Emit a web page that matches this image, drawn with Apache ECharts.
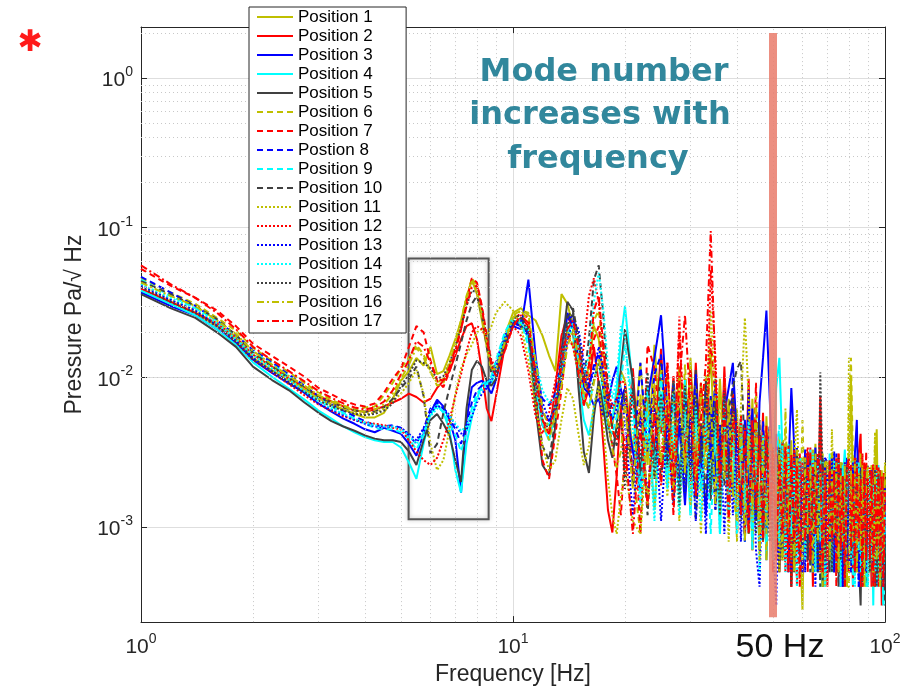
<!DOCTYPE html>
<html><head><meta charset="utf-8">
<script src="https://cdn.jsdelivr.net/npm/echarts@6/dist/echarts.min.js"></script>
<style>html,body{margin:0;padding:0;background:#fff}#c{width:914px;height:691px}</style>
</head><body><div id="c"></div>
<script>
// Frequency grid [Hz]
const freq = [1,1.2,1.4,1.6,1.8,2,2.25,2.5,2.75,3,3.25,3.5,3.75,4,4.25,4.5,4.75,
5,5.25,5.5,5.75,6,6.25,6.5,6.75,7,7.25,7.5,7.75,8,8.25,8.5,8.75,9,9.5,10,10.5,11,11.5,12,12.5,13,13.5,14,14.5,15,15.5,16,16.5,17,17.5,18,18.5,19,19.5,
20,21,22,23,24,25,26,27,28,29,30,31,32,33,34,35,36,37,38,39,40,41,42,43,44,45,46,47,48,49,
50,51,52,53,54,55,56,57,58,59,60,61,62,63,64,65,66,67,68,69,70,71,72,73,74,75,76,77,78,79,
80,81,82,83,84,85,86,87,88,89,90,91,92,93,94,95,96,97,98,99,100];

const names = ['Position 1','Position 2','Position 3','Position 4','Position 5','Position 6','Position 7','Postion 8','Position 9','Position 10','Position 11','Position 12','Position 13','Position 14','Position 15','Position 16','Position 17'];

// Pressure [Pa/sqrt(Hz)] per position
const p1 = [.038,.031,.027,.022,.018,.0135,.0112,.0096,.0083,.0073,.0066,.0061,.0057,.0054,.0054,.0058,.0072,
.0095,.011,.0135,.012,.016,.0105,.011,.014,.018,.024,.034,.045,.036,.024,.016,.011,.012,.019,.027,.029,.026,.024,.019,.014,.011,.036,.031,.022,.013,.0085,.012,.022,.018,.0095,.0062,.0048,.0075,.011,
.0095,.0032,.0125,.0026,.0165,.0042,.0105,.0029,.0118,.0024,
.0135,.0026,.0092,.0034,.0155,.0021,.0098,.0027,.0072,.0016,
.0062,.0014,.0045,.0009,.0072,.0016,.0038,.0008,.0055,.0012,
.0034,.0008,.0042,.0006,.0029,.0011,.0038,.0005,.0026,.0009,
.00028,.0031,.0007,.0026,.0005,.0036,.0009,.0022,.0004,.0028,
.0006,.0024,.0009,.0031,.0005,.0019,.0007,.0027,.0004,.0021,
.0024,.0098,.0016,.0006,.0029,.0005,.0022,.0008,.0025,.0004,
.0019,.0006,.0026,.0005,.0021,.0045,.0007,.0018,.0004,.0023,.0015];
const p2 = [.039,.032,.027,.023,.0185,.0142,.0118,.0098,.0086,.0075,.0069,.0064,.006,.0059,.0061,.0064,.0068,
.0072,.0078,.0074,.0068,.0072,.0085,.0095,.011,.014,.018,.022,.023,.018,.011,.0062,.0051,.0075,.016,.022,.025,.022,.0095,.0048,.0042,.0085,.019,.026,.021,.012,.0065,.0085,.016,.009,.0035,.0013,.00092,.0022,.0065,
.0022,.0115,.0019,.0088,.0032,.0155,.0027,.0102,.0021,.0086,
.0018,.0125,.0024,.0092,.0035,.0082,.0015,.0118,.0023,.0074,
.0009,.0052,.0013,.0098,.0007,.0042,.0011,.0058,.0006,.0036,
.0008,.0031,.0005,.0038,.0009,.0027,.0004,.0033,.0007,.0024,
.0005,.0029,.0008,.0034,.0004,.0025,.0009,.0075,.0012,.0022,
.0004,.0027,.0007,.0021,.0005,.0029,.0008,.0023,.0004,.0019,
.0006,.0026,.0004,.0022,.0007,.0031,.0042,.0009,.0005,.0024,
.0007,.0021,.0004,.0026,.0006,.0019,.0005,.0024,.0003,.0018,.0009];
const p3 = [.037,.030,.026,.021,.017,.0131,.0107,.0091,.0079,.0067,.0059,.0053,.0049,.0045,.0043,.0046,.0044,
.0042,.0036,.003,.0042,.0058,.0071,.0064,.0052,.0038,.0017,.0052,.0086,.0092,.0095,.0088,.0078,.0096,.017,.022,.021,.045,.014,.0058,.0051,.0062,.011,.027,.022,.013,.0085,.0078,.0065,.0072,.0055,.0068,.0095,.0118,.0082,
.0068,.0032,.0018,.0072,.0135,.026,.0062,.0021,.0048,.0014,
.0062,.0016,.0043,.0012,.0075,.0025,.0014,.0058,.0085,.0125,
.0038,.0012,.0052,.0019,.0062,.0011,.0068,.0135,.028,.0072,
.0019,.0042,.0007,.0029,.0011,.0024,.0085,.0035,.0008,.0027,
.0009,.0032,.0006,.0025,.0011,.0034,.0005,.0022,.0009,.0028,
.0005,.0026,.0009,.0032,.0006,.0022,.0004,.0025,.0008,.0029,
.0005,.0023,.0008,.0031,.0052,.0011,.0027,.0005,.0021,.0007,
.0026,.0005,.0022,.0008,.0019,.0004,.0025,.0007,.0021,.0005,.0017];
const p4 = [.038,.031,.026,.021,.0165,.0126,.0101,.0084,.0071,.006,.0053,.0047,.0043,.004,.0038,.0037,.0037,
.0034,.0027,.0021,.0036,.0056,.0066,.0058,.0045,.0024,.0017,.0036,.0054,.0072,.009,.0094,.0092,.011,.019,.024,.023,.018,.0092,.0048,.0038,.0058,.012,.022,.019,.0095,.0052,.0041,.0062,.009,.0072,.0045,.0052,.0085,.018,
.03,.0085,.0021,.0062,.0013,.0078,.0019,.0092,.0024,.0056,
.0012,.0068,.0021,.0085,.0016,.0052,.0009,.0063,.0018,.0048,
.0011,.0055,.0008,.0042,.0016,.0061,.0009,.0038,.0006,.0045,
.0021,.0085,.0135,.0032,.0009,.0036,.0006,.0028,.0011,.0024,
.0006,.0027,.0009,.0033,.0005,.0024,.0008,.0029,.0004,.0022,
.0008,.0031,.0005,.0023,.0009,.0027,.0006,.0021,.0033,.0007,
.0024,.0006,.0028,.0009,.0022,.0005,.0026,.0008,.0019,.0004,
.0023,.0007,.0018,.0003,.0021,.0006,.0026,.0005,.0019,.0003,.0014];
const p5 = [.036,.029,.025,.020,.016,.0118,.0096,.0082,.0068,.0058,.0051,.0047,.0044,.0041,.0039,.0038,.0038,
.0037,.0032,.0026,.0038,.0052,.0057,.0049,.0041,.0028,.002,.0062,.0112,.0129,.0118,.0095,.0088,.0098,.018,.024,.022,.02,.0062,.0026,.0022,.0048,.015,.032,.028,.0085,.0032,.0023,.0055,.0095,.0062,.0038,.0029,.0048,.0115,
.021,.0095,.0022,.0088,.0026,.0125,.0032,.0076,.0018,.0098,
.0027,.0112,.0021,.0082,.0015,.0098,.0028,.0069,.0013,.0085,
.0014,.0049,.0009,.0062,.0012,.0041,.0007,.0036,.0011,.0047,
.0009,.0028,.0005,.0034,.0008,.0029,.0004,.0031,.0009,.0025,
.0007,.0026,.0009,.0031,.0005,.0027,.0008,.0024,.0004,.0021,
.0025,.0006,.0029,.0008,.0022,.0005,.0027,.0009,.0023,.0006,
.0021,.0007,.0025,.0005,.0028,.0006,.0003,.0024,.0008,.0022,
.0005,.0024,.0007,.0019,.0004,.0023,.0006,.0018,.0004,.0021,.0004];
const p6 = [.046,.037,.031,.025,.0205,.0158,.0129,.0108,.0092,.0079,.0071,.0065,.0061,.0063,.0064,.0076,.0092,
.0115,.0135,.0165,.0142,.011,.0088,.0092,.012,.016,.022,.033,.046,.041,.028,.018,.012,.0118,.018,.026,.028,.027,.012,.0052,.0038,.0058,.0095,.021,.016,.011,.0072,.0115,.024,.028,.014,.0068,.0042,.0045,.0078,
.0062,.0024,.0009,.0075,.0021,.0118,.0028,.0085,.0019,.0122,
.0023,.0088,.0017,.0105,.0026,.0074,.0014,.0095,.0021,.0078,
.0008,.0047,.0013,.0058,.0007,.0039,.0012,.0051,.0006,.0042,
.0011,.0029,.0007,.0036,.0041,.0008,.0032,.0005,.0027,.0009,
.0052,.0012,.0029,.0006,.0033,.0009,.0025,.0005,.0031,.0008,
.0027,.0006,.0032,.0009,.0024,.0005,.0028,.0007,.0022,.0004,
.0065,.0135,.0028,.0006,.0025,.0009,.0031,.0005,.0023,.0008,
.0026,.0005,.0021,.0008,.0038,.0007,.0024,.0004,.0019,.0006,.0023];
const p7 = [.053,.041,.034,.028,.022,.0168,.0139,.0118,.0101,.0085,.0077,.0070,.0066,.0064,.0067,.0079,.0098,
.0115,.016,.022,.02,.013,.0095,.0086,.011,.015,.021,.032,.046,.043,.03,.019,.0125,.011,.016,.024,.027,.025,.0082,.0028,.0021,.0042,.0082,.018,.02,.011,.0065,.0095,.018,.022,.011,.0052,.0035,.0022,.0012,
.0032,.0085,.0009,.0165,.0115,.0042,.0125,.0022,.0205,.0031,
.0115,.0021,.0092,.0032,.0185,.0072,.0018,.0098,.0025,.0082,
.0012,.0056,.0009,.0048,.0014,.0092,.0008,.0043,.0011,.0037,
.0006,.0033,.0008,.0029,.0005,.0035,.0009,.0027,.0004,.0031,
.0009,.0024,.0005,.0032,.0007,.0026,.0011,.0055,.0008,.0023,
.0005,.0028,.0008,.0024,.0004,.0031,.0007,.0022,.0005,.0026,
.0008,.0023,.0005,.0029,.0007,.0021,.0004,.0027,.0008,.0032,
.0006,.0022,.0005,.0027,.0008,.0019,.0004,.0024,.0006,.0021,.0011];
const p8 = [.047,.037,.030,.024,.0192,.0152,.0126,.0104,.0088,.0075,.0066,.006,.0055,.0051,.0048,.0047,.0048,
.0046,.0041,.0036,.0045,.0062,.0068,.0062,.0053,.0045,.0036,.0048,.0068,.0082,.0088,.0092,.0098,.0125,.019,.023,.022,.019,.011,.0072,.0065,.0078,.0135,.024,.026,.017,.0098,.0085,.012,.0145,.0082,.0055,.0068,.0072,.0065,
.0088,.0022,.0125,.0032,.0105,.0142,.0027,.0092,.0019,.0078,
.0025,.0105,.0019,.0088,.0028,.0098,.0017,.0082,.0026,.0102,
.0013,.0048,.0008,.0082,.0012,.0043,.0007,.0051,.0016,.0048,
.0008,.0032,.0006,.0037,.0009,.0028,.0005,.0034,.0008,.0026,
.0005,.0033,.0008,.0027,.0005,.0031,.0009,.0024,.0006,.0029,
.0027,.0007,.0022,.0005,.0031,.0008,.0024,.0004,.0026,.0007,
.0023,.0005,.0027,.0008,.0021,.0004,.0025,.0007,.0022,.0005,
.0021,.0006,.0024,.0004,.0019,.0007,.0023,.0005,.0018,.0004,.0016];
const p9 = [.045,.035,.029,.024,.0188,.0148,.0123,.0101,.0086,.0072,.0064,.0058,.0053,.0049,.0046,.0045,.0045,
.0043,.0039,.0033,.0041,.0058,.0064,.0059,.0049,.0041,.0032,.0043,.0062,.0078,.0085,.0091,.0102,.013,.02,.025,.024,.016,.0078,.0052,.0048,.0065,.0125,.023,.021,.0128,.0072,.0062,.0098,.0125,.0078,.0046,.0042,.0055,.0092,
.0165,.0065,.0017,.0088,.0024,.0105,.0019,.0079,.0014,.0096,
.0012,.0061,.0018,.0049,.0009,.0058,.0015,.0071,.0012,.0055,
.0009,.0051,.0014,.0042,.0007,.0048,.0011,.0039,.0008,.0044,
.0012,.0029,.0048,.0009,.0031,.0006,.0027,.0009,.0033,.0005,
.0029,.0007,.0024,.0005,.0032,.0008,.0026,.0004,.0028,.0007,
.0006,.0026,.0009,.0021,.0005,.0028,.0007,.0024,.0004,.0022,
.0007,.0025,.0004,.0022,.0008,.0027,.0005,.0023,.0006,.0019,
.0025,.0005,.0021,.0007,.0018,.0004,.0023,.0006,.0019,.0003,.0013];
const p10 = [.044,.036,.030,.0245,.0192,.0146,.0119,.0099,.0086,.0074,.0068,.0063,.006,.0059,.0059,.0063,.0072,
.0085,.0098,.0118,.0075,.0031,.0036,.0058,.0085,.012,.017,.024,.031,.035,.026,.016,.0105,.011,.017,.025,.026,.021,.0072,.0035,.0028,.0052,.011,.025,.029,.018,.0095,.018,.045,.056,.025,.0085,.0045,.0035,.0055,
.0085,.0019,.0062,.0012,.0078,.0021,.0058,.0014,.0069,.0017,
.0065,.0011,.0055,.0016,.0072,.0013,.0049,.0019,.0061,.0085,
.0115,.0128,.0032,.0009,.0045,.0013,.0052,.0008,.0041,.0012,
.0034,.0007,.0029,.0009,.0036,.0005,.0026,.0008,.0032,.0006,
.0024,.0008,.0031,.0005,.0027,.0009,.0022,.0004,.0029,.0007,
.0023,.0005,.0027,.0008,.0021,.0004,.0025,.0007,.0019,.0005,
.0024,.0006,.0021,.0005,.0026,.0008,.0019,.0004,.0023,.0006,
.0004,.0021,.0006,.0018,.0004,.0022,.0005,.0017,.0007,.0021,.0003];
const p11 = [.042,.033,.028,.023,.0186,.0141,.0116,.0097,.0084,.0072,.0066,.0061,.0058,.0057,.0058,.0062,.0069,
.0078,.0092,.0112,.0078,.0036,.0024,.0028,.0045,.0078,.0115,.0142,.0165,.02,.021,.019,.022,.027,.032,.028,.022,.013,.0065,.0035,.0024,.0028,.0052,.0085,.0072,.0042,.0026,.0035,.0065,.0088,.0048,.0021,.0012,.0009,.0016,
.0025,.0011,.0009,.0042,.0013,.0068,.0016,.0055,.0011,.0061,
.0014,.0052,.0009,.0048,.028,.0075,.0012,.0046,.0008,.0055,
.0011,.0065,.025,.0072,.0011,.0043,.0007,.0038,.0012,.0046,
.0007,.0032,.0005,.0037,.0009,.0031,.0006,.0028,.0061,.0011,
.0029,.0006,.0025,.0008,.0033,.0005,.0027,.0009,.0024,.0004,
.0028,.0006,.0045,.0012,.0026,.0005,.0023,.0008,.0027,.0004,
.0135,.0039,.0008,.0025,.0005,.0023,.0009,.0027,.0004,.0022,
.0026,.0005,.0021,.0007,.0043,.0009,.0025,.0004,.0021,.0006,.0028];
const p12 = [.040,.032,.027,.022,.0172,.0131,.0108,.009,.0076,.0066,.006,.0055,.0052,.005,.0049,.0048,.0046,
.0045,.0038,.0032,.0028,.0026,.0029,.0038,.0052,.0075,.0105,.015,.02,.022,.021,.018,.013,.0115,.015,.022,.019,.011,.0055,.0042,.0058,.0095,.015,.019,.016,.0105,.016,.035,.046,.032,.015,.0085,.0062,.0072,.0095,
.0092,.0021,.0072,.0014,.0088,.0025,.0125,.0019,.0255,.0027,
.0108,.0022,.0085,.0032,.052,.0135,.0021,.0088,.0014,.0075,
.0013,.0055,.0009,.0047,.0014,.0052,.0007,.0041,.0011,.0045,
.0005,.0031,.0009,.0036,.0006,.0029,.0004,.0033,.0008,.0027,
.0009,.0028,.0034,.0006,.0027,.0009,.0031,.0005,.0025,.0008,
.0026,.0008,.0023,.0005,.0029,.0007,.0024,.0004,.0027,.0008,
.0005,.0026,.0008,.0029,.0005,.0023,.0007,.0031,.0009,.0022,
.0005,.0025,.0008,.0021,.0004,.0026,.0007,.0019,.0005,.0023,.0014];
const p13 = [.041,.033,.028,.0222,.0176,.0135,.011,.0093,.0079,.0067,.0061,.0056,.0052,.0049,.0047,.0046,.0047,
.0046,.0042,.0038,.0046,.0058,.0065,.0062,.0056,.0048,.0042,.0045,.0055,.0068,.0078,.0085,.0095,.0118,.018,.023,.024,.02,.012,.0068,.0052,.0062,.0098,.018,.024,.021,.0125,.0088,.011,.016,.011,.0068,.0052,.0062,.0085,
.0048,.0012,.0055,.0016,.0062,.0011,.0049,.0014,.0058,.0017,
.0052,.0011,.0045,.0009,.0061,.0013,.0048,.0009,.0056,.0012,
.0042,.0008,.0045,.0011,.0038,.0007,.0004,.0036,.0009,.0041,
.0008,.0003,.0027,.0007,.0032,.0005,.0029,.0009,.0034,.0006,
.0026,.0005,.0031,.0008,.0024,.0004,.0029,.0007,.0022,.0005,
.0024,.0007,.0029,.0005,.0026,.0008,.0021,.0004,.0027,.0006,
.0021,.0005,.0025,.0007,.0028,.0004,.0022,.0008,.0024,.0005,
.0022,.0006,.0019,.0004,.0024,.0007,.0021,.0005,.0017,.0004,.0019];
const p14 = [.042,.034,.029,.023,.018,.0141,.0115,.0097,.0081,.0069,.0062,.0057,.0053,.005,.0048,.0047,.0047,
.0045,.0041,.0036,.0043,.0055,.0062,.006,.0055,.0049,.0044,.0047,.0058,.0072,.0082,.009,.0098,.0122,.019,.024,.023,.021,.013,.0082,.0068,.0072,.011,.02,.023,.016,.0105,.014,.032,.05,.028,.012,.0072,.0095,.022,
.0185,.0045,.0014,.0052,.0011,.0065,.0018,.0048,.0012,.0059,
.0016,.0063,.0011,.0056,.0019,.0048,.0009,.0057,.0013,.0044,
.0009,.0042,.0012,.0051,.0008,.0037,.0005,.0041,.0011,.0038,
.0006,.0029,.0008,.0035,.0005,.0031,.0009,.0026,.0004,.0029,
.0027,.0006,.0024,.0009,.0031,.0005,.0026,.0008,.0022,.0004,
.0007,.0024,.0005,.0028,.0009,.0022,.0004,.0026,.0007,.0021,
.0025,.0006,.0022,.0004,.0027,.0007,.0023,.0005,.0021,.0008,
.0004,.0022,.0006,.0019,.0005,.0024,.0007,.0004,.0021,.0005,.0012];
const p15 = [.040,.032,.027,.022,.0173,.0132,.011,.0092,.008,.007,.0064,.006,.0057,.0056,.0057,.006,.0067,
.0088,.0105,.013,.0125,.0115,.0098,.0102,.0125,.016,.022,.03,.038,.037,.028,.018,.0122,.0105,.016,.023,.025,.02,.0095,.0052,.0045,.0068,.0125,.022,.027,.019,.0105,.0078,.0095,.0125,.0085,.0048,.0035,.0042,.0058,
.0018,.0085,.0028,.0108,.0021,.0078,.0025,.0095,.0014,.0088,
.002,.0075,.0027,.0095,.0017,.0068,.0012,.0078,.0021,.0072,
.0043,.0011,.0041,.0013,.0048,.0009,.0044,.0012,.0039,.0008,
.0029,.0008,.0034,.0006,.0031,.0009,.0027,.0005,.0033,.0007,
.0008,.0028,.0006,.0024,.0009,.0031,.0005,.0108,.0021,.0006,
.0009,.0026,.0005,.0024,.0008,.0029,.0006,.0022,.0004,.0025,
.0026,.0007,.0022,.0005,.0027,.0009,.0024,.0004,.0021,.0006,
.0023,.0005,.0019,.0007,.0024,.0004,.0022,.0006,.0018,.0004,.0009];
const p16 = [.043,.035,.030,.024,.0195,.015,.0122,.0102,.0088,.0076,.0069,.0064,.006,.0059,.0061,.0066,.0078,
.0098,.0122,.0158,.0135,.0108,.0092,.0098,.0125,.017,.024,.035,.044,.038,.026,.017,.0115,.0112,.017,.025,.028,.024,.013,.0062,.0045,.0052,.0088,.016,.021,.0135,.0075,.0062,.0092,.0135,.0088,.0052,.0033,.0025,.0032,
.0068,.0018,.0078,.0014,.0092,.0027,.0075,.0017,.0086,.0023,
.0089,.0018,.0078,.0024,.0071,.0014,.0085,.0021,.0065,.0017,
.0011,.0046,.0008,.0041,.0012,.0075,.0006,.0038,.0009,.0043,
.0027,.0007,.0031,.0006,.0062,.0009,.0029,.0005,.0033,.0008,
.0006,.0029,.0009,.0026,.0005,.0031,.0008,.0023,.0004,.0027,
.0028,.0006,.0024,.0009,.0027,.0005,.0022,.0008,.0026,.0004,
.0004,.0024,.0008,.0028,.0005,.0023,.0007,.0026,.0004,.0021,
.0025,.0007,.0021,.0004,.0023,.0006,.0019,.0004,.0024,.0006,.0026];
const p17 = [.056,.042,.034,.027,.021,.016,.013,.011,.0094,.0081,.0073,.0067,.0063,.0061,.0063,.0069,.0082,
.0105,.013,.0175,.016,.0125,.0098,.0095,.0118,.0155,.021,.03,.04,.041,.029,.018,.012,.0102,.015,.022,.026,.023,.0105,.0052,.0042,.0065,.012,.021,.024,.016,.0092,.012,.028,.035,.016,.0072,.0045,.0038,.0052,
.0035,.0009,.0045,.0014,.0058,.0019,.0065,.0012,.0095,.026,
.0062,.0016,.0052,.0125,.095,.011,.0018,.0062,.0011,.0049,
.0052,.0012,.0046,.0009,.0053,.0013,.0041,.0008,.0048,.0011,
.0033,.0006,.0028,.0009,.0035,.0005,.0031,.0008,.0026,.0004,
.0027,.0008,.0032,.0006,.0025,.0009,.0029,.0026,.0005,.0023,
.0006,.0028,.0008,.0024,.0005,.0031,.0007,.0022,.0004,.0025,
.0029,.0007,.0023,.0005,.0026,.0008,.0021,.0004,.0027,.0006,
.0021,.0006,.0024,.0004,.0019,.0007,.0025,.0005,.0022,.0004,.0017];

const values = [p1,p2,p3,p4,p5,p6,p7,p8,p9,p10,p11,p12,p13,p14,p15,p16,p17];

// Grid-line positions
const minorX = [2,3,4,5,6,7,8,9,20,30,40,50,60,70,80,90];
const minorY = [0.0003,0.0004,0.0005,0.0006,0.0007,0.0008,0.0009,
0.002,0.003,0.004,0.005,0.006,0.007,0.008,0.009,
0.02,0.03,0.04,0.05,0.06,0.07,0.08,0.09,
0.2,0.3,0.4,0.5,0.6,0.7,0.8,0.9,2];

const colors = ['#bfbf00','#ff0000','#0000ff','#00ffff','#404040'];
const dashes = ['solid',[6,4],[2,2],[7,3,2,3]];

function powLabel(v){
  const e = Math.log10(v), r = Math.round(e);
  if (Math.abs(e - r) > 1e-6) return '';
  return '{b|10}{s|' + r + '}';
}
const rich = {
  b:{fontSize:21,fontFamily:'Liberation Sans',color:'#262626',verticalAlign:'bottom',lineHeight:26},
  s:{fontSize:14,fontFamily:'Liberation Sans',color:'#262626',verticalAlign:'top',lineHeight:14}
};
const axisLine = {show:true,lineStyle:{color:'#262626',width:1}};

const series = values.map((vals,i)=>({
  name:names[i], type:'line', symbol:'none', showSymbol:false,
  data: freq.map((f,j)=>[f, vals[j]]),
  lineStyle:{color:colors[i%5], width:2, type:dashes[Math.floor(i/5)]},
  itemStyle:{color:colors[i%5]},
  emphasis:{disabled:true}, silent:true
}));

series.unshift({
  name:'grid', type:'line', symbol:'none', silent:true, z:1,
  data:[[1,0.001],[100,0.001]], lineStyle:{opacity:0},
  markLine:{silent:true, symbol:'none', label:{show:false}, animation:false,
    lineStyle:{color:'#c8c8c8', type:[1,3], width:1},
    data:[...minorX.map(v=>({xAxis:v})), ...minorY.map(v=>({yAxis:v}))]}
});
series.push({
  name:'box', type:'line', symbol:'none', silent:true, z:20,
  data:[],
  markArea:{silent:true, animation:false,
    itemStyle:{color:'rgba(0,0,0,0)', borderColor:'#555555', borderWidth:2, shadowBlur:4, shadowColor:'rgba(0,0,0,0.25)'},
    data:[[{coord:[5.24,0.0623]},{coord:[8.6,0.00113]}]]}
});
series.push({
  name:'bar50', type:'line', symbol:'none', silent:true, z:21,
  data:[],
  markLine:{silent:true, symbol:'none', label:{show:false}, animation:false,
    lineStyle:{color:'#e9806f', width:8, type:'solid', opacity:0.88},
    data:[[{coord:[50,2.0]},{coord:[50,0.00025]}]]}
});

const chart = echarts.init(document.getElementById('c'), null, {renderer:'canvas'});
chart.setOption({
  animation:false,
  backgroundColor:'#ffffff',
  grid:{left:141, right:29, top:27, bottom:66, containLabel:false},
  xAxis:[{
    type:'log', logBase:10, min:1, max:100, position:'bottom',
    name:'Frequency [Hz]', nameLocation:'middle', nameGap:37,
    nameTextStyle:{fontSize:23, fontFamily:'Liberation Sans', color:'#262626'},
    axisLine, axisTick:{show:true, inside:true, length:6, lineStyle:{color:'#262626'}},
    axisLabel:{formatter:powLabel, rich, margin:10, showMinLabel:true, showMaxLabel:true},
    splitLine:{show:true, lineStyle:{color:'#dedede', width:1}}
  },{
    type:'log', logBase:10, min:1, max:100, position:'top',
    axisLine, axisTick:{show:true, inside:true, length:6, lineStyle:{color:'#262626'}},
    axisLabel:{show:false}, splitLine:{show:false}
  }],
  yAxis:[{
    type:'log', logBase:10, min:0.000232, max:2.19, position:'left',
    name:'Pressure Pa/\u221A Hz', nameLocation:'middle', nameGap:52,
    nameTextStyle:{fontSize:23, fontFamily:'Liberation Sans', color:'#262626'},
    axisLine, axisTick:{show:true, inside:true, length:6, lineStyle:{color:'#262626'}},
    axisLabel:{formatter:powLabel, rich, margin:8},
    splitLine:{show:true, lineStyle:{color:'#dedede', width:1}}
  },{
    type:'log', logBase:10, min:0.000232, max:2.19, position:'right',
    axisLine, axisTick:{show:true, inside:true, length:6, lineStyle:{color:'#262626'}},
    axisLabel:{show:false}, splitLine:{show:false}
  }],
  legend:{
    data:names, orient:'vertical', left:249, top:7,
    padding:[1.5,24,3.5,7], itemGap:2, itemWidth:36, itemHeight:12,
    backgroundColor:'#ffffff', borderColor:'#262626', borderWidth:1, borderRadius:0,
    itemStyle:{opacity:0},
    textStyle:{fontSize:17, lineHeight:17, fontFamily:'Liberation Sans', color:'#000'},
    selectedMode:false, z:30
  },
  graphic:[
    {type:'text', x:30, y:43, z:100, style:{text:'\u2731', fontSize:30, fontFamily:'DejaVu Sans', fill:'#ff1a1a', align:'center', verticalAlign:'middle'}},
    {type:'text', x:604, y:73, z:100, style:{text:'Mode number', fontSize:32, fontWeight:'bold', fontFamily:'DejaVu Sans', fill:'#31879c', align:'center', verticalAlign:'middle'}},
    {type:'text', x:600, y:116, z:100, style:{text:'increases with', fontSize:32, fontWeight:'bold', fontFamily:'DejaVu Sans', fill:'#31879c', align:'center', verticalAlign:'middle'}},
    {type:'text', x:598, y:160, z:100, style:{text:'frequency', fontSize:32, fontWeight:'bold', fontFamily:'DejaVu Sans', fill:'#31879c', align:'center', verticalAlign:'middle'}},
    {type:'text', x:780, y:648, z:100, style:{text:'50 Hz', fontSize:34, fontFamily:'Liberation Sans', fill:'#111111', align:'center', verticalAlign:'middle'}}
  ],
  series
});
</script>
</body></html>
